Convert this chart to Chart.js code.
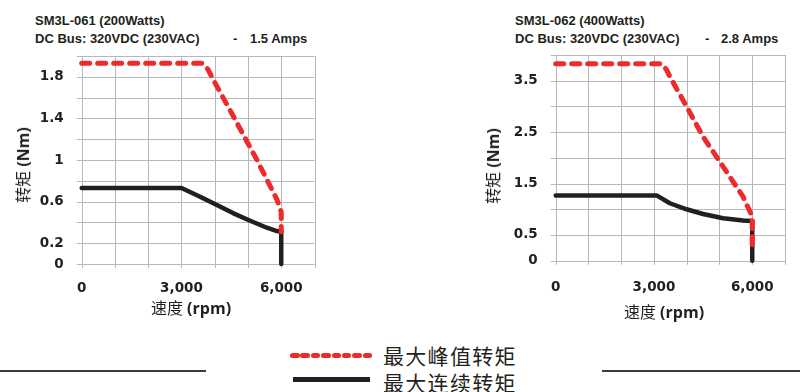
<!DOCTYPE html>
<html>
<head>
<meta charset="utf-8">
<script src="https://cdn.jsdelivr.net/npm/chart.js@4/dist/chart.umd.min.js"></script>
<style>
  html, body { margin: 0; padding: 0; background: #fff; }
  body { width: 800px; height: 392px; position: relative; overflow: hidden; color: #231f20; }
  .t { position: absolute; font: bold 13px 'Liberation Sans', Arial, sans-serif; line-height: 16px; white-space: pre; color: #231f20; }
  canvas { position: absolute; top: 0; }
  .rule { position: absolute; top: 370px; height: 2px; background: #3d3d3d; }
  .lg { position: absolute; left: 383px; font: 21px 'Noto Sans CJK SC', sans-serif; letter-spacing: 1.3px; line-height: 24px; white-space: nowrap; color: #231f20; }
  .dots { position: absolute; left: 290px; top: 352.5px; height: 5px; display: flex; gap: 0.9px; }
  .dots span { width: 9.5px; height: 5px; border-radius: 2.5px; background: #ed2a2c; }
  .bar { position: absolute; left: 293px; top: 377px; width: 77px; height: 5px; background: #231f20; }
  .cap { position: absolute; white-space: nowrap; line-height: 20px; color: #231f20; transform: translate(-50%, -50%); }
  .cap.v { transform: translate(-50%, -50%) rotate(-90deg); }
  .cap .zh { font: 16px 'Noto Sans CJK SC', sans-serif; }
  .cap .en { font: bold 16px 'Open Sans', sans-serif; }
</style>
</head>
<body>
<div class="t" style="left:35px;top:13px">SM3L-061 (200Watts)</div>
<div class="t" style="left:35px;top:31px">DC Bus: 320VDC (230VAC)</div>
<div class="t" style="left:233px;top:31px">-</div>
<div class="t" style="left:250px;top:31px">1.5 Amps</div>

<div class="t" style="left:515px;top:13px">SM3L-062 (400Watts)</div>
<div class="t" style="left:515px;top:31px">DC Bus: 320VDC (230VAC)</div>
<div class="t" style="left:705px;top:31px">-</div>
<div class="t" style="left:721px;top:31px">2.8 Amps</div>

<canvas id="c061" width="330" height="330" style="left:0px"></canvas>
<canvas id="c062" width="330" height="330" style="left:470px"></canvas>

<div class="cap" style="left:191px;top:306.5px"><span class="zh">速度</span><span class="en"> (rpm)</span></div>
<div class="cap v" style="left:21.7px;top:165px"><span class="zh">转矩</span><span class="en"> (Nm)</span></div>
<div class="cap" style="left:664px;top:310.5px"><span class="zh">速度</span><span class="en"> (rpm)</span></div>
<div class="cap v" style="left:491.7px;top:165.7px"><span class="zh">转矩</span><span class="en"> (Nm)</span></div>

<div class="rule" style="left:0;width:206px"></div>
<div class="rule" style="left:602px;width:198px"></div>

<div class="dots"><span></span><span></span><span></span><span></span><span></span><span></span><span></span><span></span></div>
<div class="bar"></div>
<div class="lg" style="top:343px">最大峰值转矩</div>
<div class="lg" style="top:370px">最大连续转矩</div>

<script>
// Speeds (rpm) that carry a label on the horizontal axis
const xTickLabels = [0, 3000, 6000];

// SM3L-061: peak and continuous torque curves (rpm, Nm)
const speed061Peak  = [0, 3640, 3800, 3960, 4560, 5270, 5870, 6000, 6000];
const torque061Peak = [1.93, 1.93, 1.87, 1.77, 1.42, 1.0, 0.62, 0.5, 0.31];
const speed061Cont  = [0, 3000, 3560, 4064, 4564, 5065, 5567, 5870, 6000, 6000];
const torque061Cont = [0.73, 0.73, 0.647, 0.567, 0.487, 0.416, 0.349, 0.317, 0.31, 0];
const yTickLabels061 = [0, 0.2, 0.6, 1, 1.4, 1.8];

// SM3L-062: peak and continuous torque curves (rpm, Nm)
const speed062Peak  = [0, 3232, 3385, 3485, 3994, 4500, 5110, 5720, 6000, 6000];
const torque062Peak = [3.83, 3.83, 3.71, 3.58, 3.0, 2.41, 1.83, 1.245, 0.86, 0.3];
const speed062Cont  = [0, 3080, 3485, 3994, 4500, 5110, 5720, 6000, 6000];
const torque062Cont = [1.27, 1.27, 1.117, 1.0, 0.908, 0.825, 0.78, 0.77, 0];
const yTickLabels062 = [0, 0.5, 1.5, 2.5, 3.5];

const seriesNames = ['最大峰值转矩', '最大连续转矩'];

const INK = '#231f20';
const RED = '#ed2a2c';
const GRID = '#b8b8b8';
const tickFont = { family: "'DejaVu Sans', sans-serif", size: 13.5, weight: 'bold' };

// Grid, outer tick marks and frame, stroked at every scale tick before the curves
const gridPlugin = {
  id: 'torqueGrid',
  beforeDatasetsDraw(chart) {
    const ctx = chart.ctx;
    const a = chart.chartArea;
    const xs = chart.scales.x, ys = chart.scales.y;
    const crisp = v => Math.round(v) + 0.5;
    ctx.save();
    ctx.strokeStyle = GRID;
    ctx.lineWidth = 1;
    ctx.setLineDash([]);
    ctx.beginPath();
    xs.ticks.forEach(t => {
      const px = crisp(xs.getPixelForValue(t.value));
      ctx.moveTo(px, a.top);
      ctx.lineTo(px, a.bottom + 4);
    });
    ys.ticks.forEach(t => {
      const py = crisp(ys.getPixelForValue(t.value));
      ctx.moveTo(a.left - 5, py);
      ctx.lineTo(a.right, py);
    });
    ctx.stroke();
    ctx.restore();
  }
};

function toPoints(xs, ys) {
  return xs.map((x, i) => ({ x: x, y: ys[i] }));
}

function torqueChart(id, peakX, peakY, contX, contY, yMax, yStep, yLabels, geo) {
  const W = 330, H = 330;
  return new Chart(document.getElementById(id), {
    type: 'line',
    data: {
      datasets: [
        {
          label: seriesNames[0],
          data: toPoints(peakX, peakY),
          borderColor: RED,
          borderWidth: 5,
          borderDash: [8, 8],
          borderCapStyle: 'round',
          borderJoinStyle: 'round',
          pointRadius: 0,
          fill: false,
          tension: 0,
          clip: false
        },
        {
          label: seriesNames[1],
          data: toPoints(contX, contY),
          borderColor: INK,
          borderWidth: 4.5,
          borderCapStyle: 'round',
          borderJoinStyle: 'round',
          pointRadius: 0,
          fill: false,
          tension: 0,
          clip: false
        }
      ]
    },
    options: {
      responsive: false,
      animation: false,
      devicePixelRatio: 1,
      events: [],
      layout: { padding: { left: 0, top: geo.top, right: W - geo.right, bottom: 0 } },
      plugins: { legend: { display: false }, tooltip: { enabled: false } },
      scales: {
        x: {
          type: 'linear',
          min: 0,
          max: 7000,
          ticks: {
            stepSize: 1000,
            autoSkip: false,
            maxRotation: 0,
            padding: geo.xPad,
            color: INK,
            font: tickFont,
            callback: v => xTickLabels.includes(v) ? v.toLocaleString('en-US') : ''
          },
          grid: { color: 'rgba(0,0,0,0)', lineWidth: 1, drawTicks: true, tickLength: 4 },
          border: { color: 'rgba(0,0,0,0)', width: 1 },
          afterFit: s => { s.height = H - geo.bottom; }
        },
        y: {
          min: 0,
          max: yMax,
          ticks: {
            stepSize: yStep,
            autoSkip: false,
            padding: 13,
            color: INK,
            font: tickFont,
            callback: v => yLabels.some(t => Math.abs(t - v) < 1e-6) ? String(+v.toFixed(1)) : ''
          },
          grid: { color: 'rgba(0,0,0,0)', lineWidth: 1, drawTicks: true, tickLength: 5 },
          border: { color: 'rgba(0,0,0,0)', width: 1 },
          afterFit: s => { s.width = geo.left; }
        }
      }
    },
    plugins: [gridPlugin]
  });
}

torqueChart('c061', speed061Peak, torque061Peak, speed061Cont, torque061Cont, 2, 0.2, yTickLabels061,
  { left: 81.7, right: 314.5, top: 56, bottom: 264, xPad: 12 });

torqueChart('c062', speed062Peak, torque062Peak, speed062Cont, torque062Cont, 4, 0.5, yTickLabels062,
  { left: 85.7, right: 315, top: 55, bottom: 260.7, xPad: 15 });
</script>
</body>
</html>
